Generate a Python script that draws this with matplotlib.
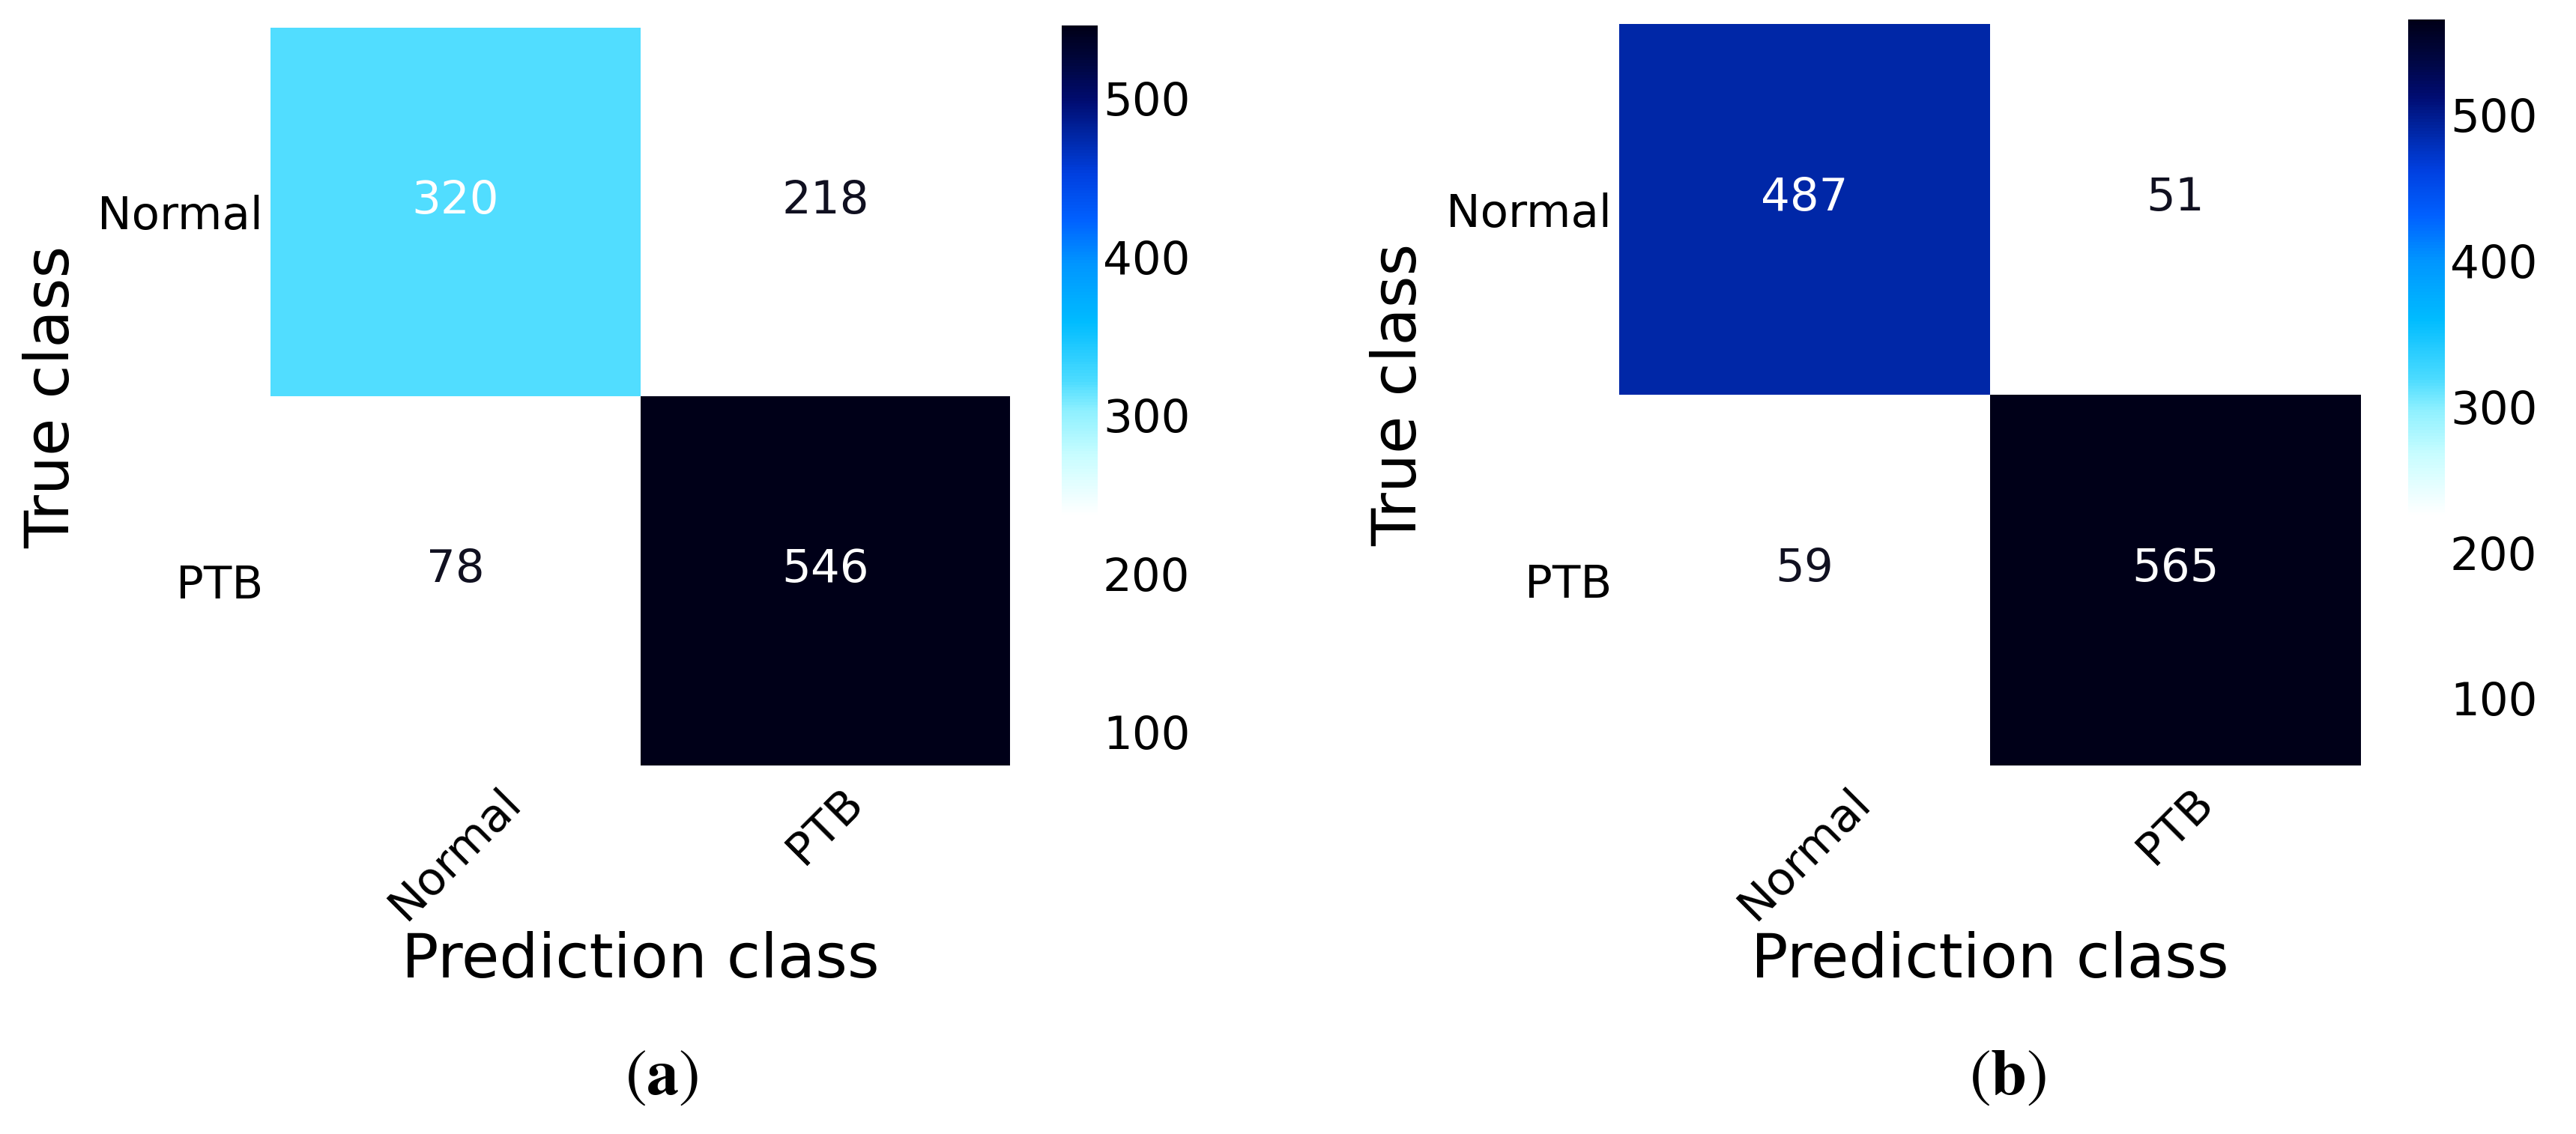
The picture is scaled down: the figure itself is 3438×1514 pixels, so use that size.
import numpy as np
import matplotlib
matplotlib.use("Agg")
import matplotlib.pyplot as plt
from matplotlib.colors import LinearSegmentedColormap

# ---- data ----
classes = ["Normal", "PTB"]
cm_a = [[320, 218],
        [78, 546]]
cm_b = [[487, 51],
        [59, 565]]
cbar_ticks = [100, 200, 300, 400, 500]
captions = ["a", "b"]
xlabel = "Prediction class"
ylabel = "True class"

plt.rcParams["font.family"] = ["DejaVu Sans"]
plt.rcParams["mathtext.fontset"] = "stix"

cmap = LinearSegmentedColormap.from_list("wcb", [
    (0.00, "#ffffff"),
    (0.34, "#ffffff"),
    (0.42, "#c8fdff"),
    (0.48, "#8ef0ff"),
    (0.52, "#4ddcff"),
    (0.60, "#00bcff"),
    (0.68, "#0095ff"),
    (0.74, "#0060ff"),
    (0.80, "#0040e0"),
    (0.85, "#0028a8"),
    (0.90, "#000c70"),
    (0.95, "#000640"),
    (1.00, "#000018"),
])

W, H = 3438, 1514
fig = plt.figure(figsize=(W / 100, H / 100), dpi=100)


def px_axes(x0, y0, x1, y1):
    return fig.add_axes([x0 / W, 1 - y1 / H, (x1 - x0) / W, (y1 - y0) / H])


panels = [
    dict(cm=cm_a, hm=(361, 37, 1348, 1022), cb=(1417, 34, 1465, 1024),
         ylab_x=70, cap_x=883),
    dict(cm=cm_b, hm=(2161, 32, 3151, 1022), cb=(3214, 26, 3263, 1028),
         ylab_x=1868, cap_x=2680),
]

for p, cap in zip(panels, captions):
    cm = np.array(p["cm"])
    vmin, vmax = cm.min(), cm.max()
    ax = px_axes(*p["hm"])
    mesh = ax.pcolormesh(cm, cmap=cmap, vmin=vmin, vmax=vmax)
    ax.set_xlim(0, cm.shape[1])
    ax.set_ylim(cm.shape[0], 0)
    for s in ax.spines.values():
        s.set_visible(False)
    ax.set_xticks(np.arange(len(classes)) + 0.5)
    ax.set_yticks(np.arange(len(classes)) + 0.5)
    ax.set_xticklabels(classes, rotation=45, ha="center", fontsize=44)
    ax.set_yticklabels(classes, rotation=0, fontsize=44)
    ax.tick_params(axis="x", length=0, pad=14)
    ax.tick_params(axis="y", length=0, pad=7)
    thresh = vmax / 2
    for i in range(cm.shape[0]):
        for j in range(cm.shape[1]):
            v = cm[i, j]
            ax.text(j + 0.5, i + 0.47, str(v), ha="center", va="center",
                    fontsize=44,
                    color="white" if v > thresh else "#101020")

    cax = px_axes(*p["cb"])
    cb = fig.colorbar(mesh, cax=cax)
    cb.outline.set_visible(False)
    cb.set_ticks(cbar_ticks)
    cax.tick_params(length=0, pad=5, labelsize=44)

    x0, y0, x1, y1 = p["hm"]
    fig.text((x0 + x1) / 2 / W, 1 - 1282 / H, xlabel, ha="center",
             va="center", fontsize=59)
    fig.text(p["ylab_x"] / W, 1 - ((y0 + y1) / 2) / H, ylabel, ha="center",
             va="center", rotation=90, fontsize=59)
    fig.text(p["cap_x"] / W, 1 - 1437 / H, r"$(\mathbf{%s})$" % cap,
             ha="center", va="center", fontsize=62)

fig.savefig("out.png", dpi=100, facecolor="white")
